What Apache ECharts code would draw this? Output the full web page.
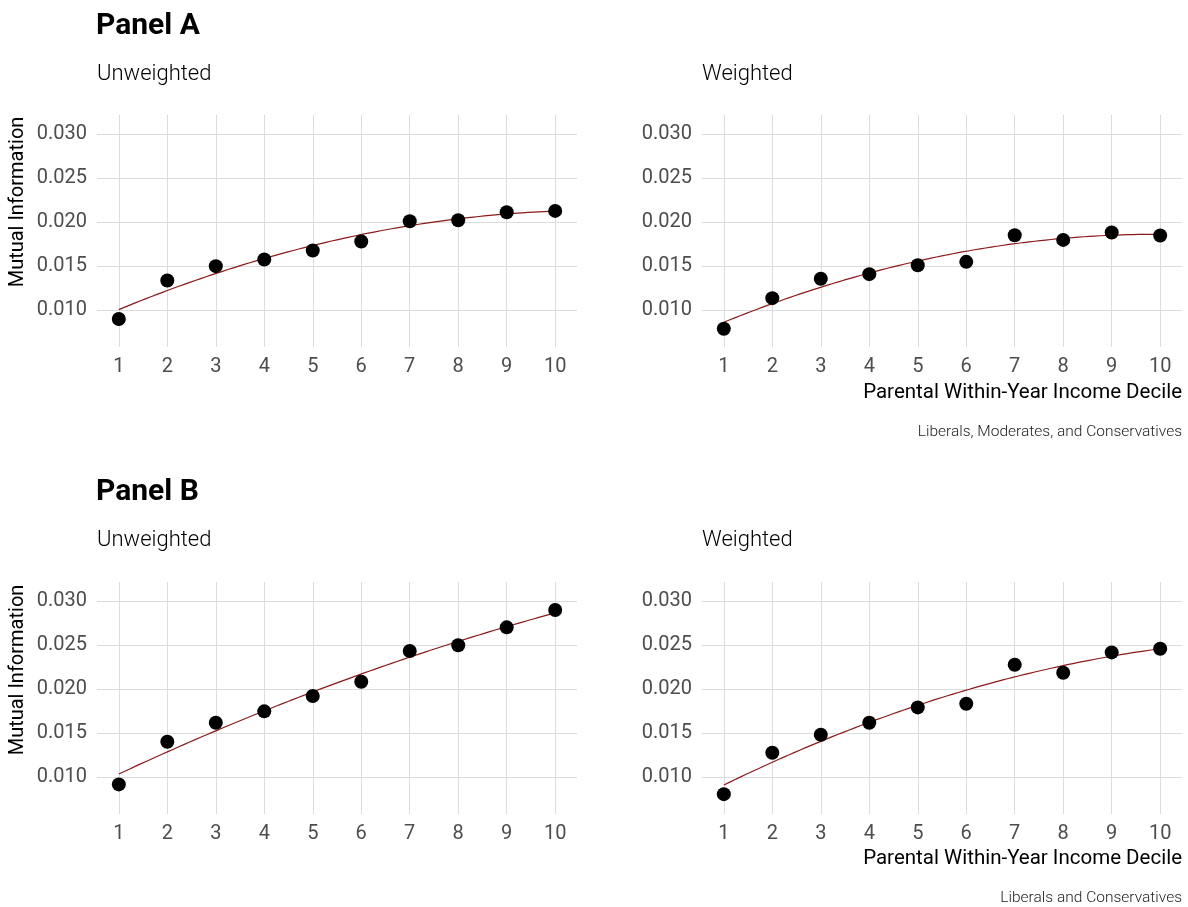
<!DOCTYPE html>
<html>
<head>
<meta charset="utf-8">
<style>
  html, body { margin: 0; padding: 0; background: #ffffff; }
  #chart { width: 1188px; height: 907px; }
</style>
<script src="https://cdn.jsdelivr.net/npm/echarts@6/dist/echarts.min.js"></script>
</head>
<body>
<div id="chart"></div>
<script>
// ---- Data ----
const deciles = [1, 2, 3, 4, 5, 6, 7, 8, 9, 10];
const xTickLabels = [1, 2, 3, 4, 5, 6, 7, 8, 9, 10];
const yTickValues = [0.010, 0.015, 0.020, 0.025, 0.030];

// Panel A: Liberals, Moderates, and Conservatives
const panelAUnweighted = [0.00898, 0.01337, 0.01500, 0.01576, 0.01678, 0.01780, 0.02011, 0.02023, 0.02114, 0.02129];
const panelAWeighted   = [0.00788, 0.01136, 0.01356, 0.01409, 0.01511, 0.01549, 0.01852, 0.01799, 0.01883, 0.01848];
// Panel B: Liberals and Conservatives
const panelBUnweighted = [0.00917, 0.01402, 0.01619, 0.01748, 0.01922, 0.02085, 0.02435, 0.02500, 0.02704, 0.02901];
const panelBWeighted   = [0.00806, 0.01277, 0.01482, 0.01619, 0.01793, 0.01835, 0.02279, 0.02188, 0.02419, 0.02461];

const panelTitles = ['Panel A', 'Panel B'];
const subTitles = ['Unweighted', 'Weighted'];
const captions = ['Liberals, Moderates, and Conservatives', 'Liberals and Conservatives'];
const yAxisTitle = 'Mutual Information';
const xAxisTitle = 'Parental Within-Year Income Decile';

// Quadratic least-squares fit (like geom_smooth(method = "lm", formula = y ~ poly(x, 2)))
function quadFit(xs, ys) {
  let S = [0,0,0,0,0], T = [0,0,0];
  for (let i = 0; i < xs.length; i++) {
    let p = 1;
    for (let k = 0; k < 5; k++) { S[k] += p; if (k < 3) T[k] += p * ys[i]; p *= xs[i]; }
  }
  const A = [[S[0],S[1],S[2],T[0]],[S[1],S[2],S[3],T[1]],[S[2],S[3],S[4],T[2]]];
  for (let c = 0; c < 3; c++) {
    for (let r = c + 1; r < 3; r++) {
      const f = A[r][c] / A[c][c];
      for (let k = c; k < 4; k++) A[r][k] -= f * A[c][k];
    }
  }
  const coef = [0,0,0];
  for (let r = 2; r >= 0; r--) {
    let s = A[r][3];
    for (let k = r + 1; k < 3; k++) s -= A[r][k] * coef[k];
    coef[r] = s / A[r][r];
  }
  const pts = [];
  const x0 = xs[0], x1 = xs[xs.length - 1];
  const n = 80;
  for (let i = 0; i <= n; i++) {
    const x = x0 + (x1 - x0) * i / n;
    pts.push([x, coef[0] + coef[1] * x + coef[2] * x * x]);
  }
  return pts;
}

const panels = [
  { data: panelAUnweighted, left: 97,  top: 115 },
  { data: panelAWeighted,   left: 702, top: 115 },
  { data: panelBUnweighted, left: 97,  top: 582 },
  { data: panelBWeighted,   left: 702, top: 582 }
];

const FONT = 'Roboto, "Noto Sans", sans-serif';
const grids = [], xAxes = [], yAxes = [], series = [];

panels.forEach((p, i) => {
  grids.push({ left: p.left, top: p.top, width: 480, height: 232, containLabel: false });
  xAxes.push({
    type: 'value', gridIndex: i, min: 0.55, max: 10.45,
    axisLine: { show: false },
    axisTick: { show: false, customValues: xTickLabels },
    axisLabel: { customValues: xTickLabels, color: '#4d4d4d', fontFamily: FONT, fontSize: 20, margin: 10 },
    splitLine: { show: true, lineStyle: { color: '#dcdcdc', width: 1 } }
  });
  yAxes.push({
    type: 'value', gridIndex: i, min: 0.0058, max: 0.0322,
    axisLine: { show: false },
    axisTick: { show: false, customValues: yTickValues },
    axisLabel: { customValues: yTickValues, color: '#4d4d4d', fontFamily: FONT, fontSize: 20, margin: 10,
                 formatter: v => v.toFixed(3) },
    splitLine: { show: true, lineStyle: { color: '#dcdcdc', width: 1 } }
  });
  series.push({
    type: 'line', xAxisIndex: i, yAxisIndex: i,
    data: quadFit(deciles, p.data),
    showSymbol: false, symbol: 'none', smooth: false,
    lineStyle: { color: '#8b1a1a', width: 1.2 },
    z: 2, silent: true, animation: false
  });
  series.push({
    type: 'scatter', xAxisIndex: i, yAxisIndex: i,
    data: deciles.map((d, k) => [d, p.data[k]]),
    symbolSize: 14,
    itemStyle: { color: '#000000', opacity: 1 },
    z: 3, silent: true, animation: false
  });
});

function txt(text, x, y, font, align, fill, rotation) {
  return {
    type: 'text', x: x, y: y, rotation: rotation || 0, silent: true,
    style: { text: text, font: font, fill: fill || '#000', align: align || 'left', verticalAlign: 'middle' }
  };
}

const graphics = [
  txt(panelTitles[0], 96, 26, 'bold 30px ' + FONT),
  txt(subTitles[0], 97, 74, '300 22px ' + FONT),
  txt(subTitles[1], 702, 74, '300 22px ' + FONT),
  txt(yAxisTitle, 18, 202, '20px ' + FONT, 'center', '#000', Math.PI / 2),
  txt(xAxisTitle, 1182, 393, '20.5px ' + FONT, 'right'),
  txt(captions[0], 1182, 432, '300 15.5px ' + FONT, 'right', '#222'),

  txt(panelTitles[1], 96, 492, 'bold 30px ' + FONT),
  txt(subTitles[0], 97, 540, '300 22px ' + FONT),
  txt(subTitles[1], 702, 540, '300 22px ' + FONT),
  txt(yAxisTitle, 18, 670, '20px ' + FONT, 'center', '#000', Math.PI / 2),
  txt(xAxisTitle, 1182, 859, '20.5px ' + FONT, 'right'),
  txt(captions[1], 1182, 898, '300 15.5px ' + FONT, 'right', '#222')
];

const chart = echarts.init(document.getElementById('chart'), null, { renderer: 'canvas' });
chart.setOption({
  backgroundColor: '#ffffff',
  animation: false,
  grid: grids,
  xAxis: xAxes,
  yAxis: yAxes,
  series: series,
  graphic: graphics
});
</script>
</body>
</html>
